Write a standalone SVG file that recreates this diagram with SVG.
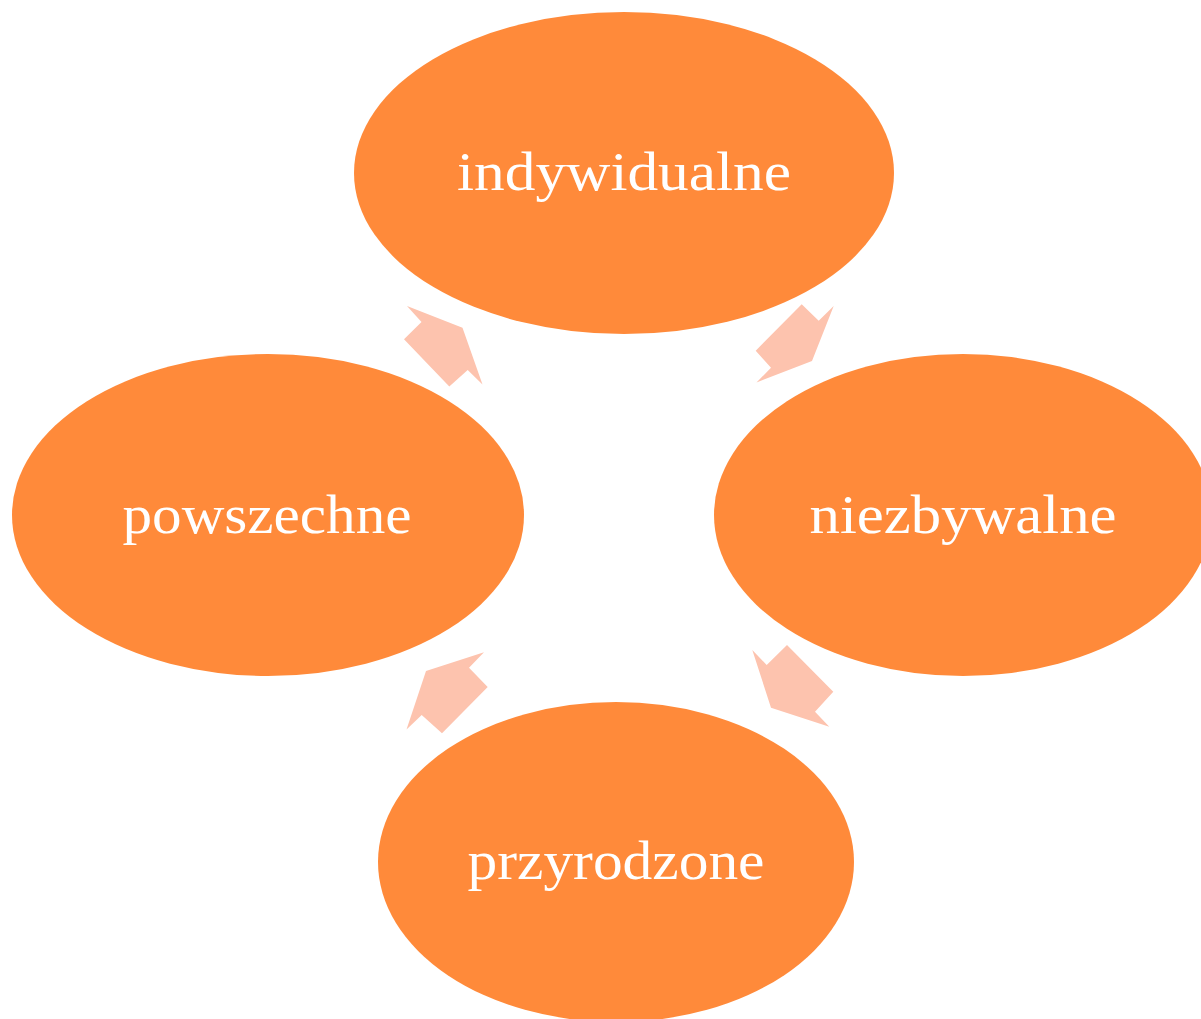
<svg xmlns="http://www.w3.org/2000/svg" width="1201" height="1019" viewBox="0 0 1201 1019">
<style>
.node{fill:#ff8a3a;}
.lbl{font-family:"Liberation Serif","Times New Roman",serif;font-size:54px;fill:#ffffff;text-anchor:middle;}
.arr{fill:#fdc3ae;}
</style>
<rect width="1201" height="1019" fill="#ffffff"/>
<g id="connectors">
<polygon class="arr" points="407,306 421.5,322 404,339.3 449.3,386.5 467.7,370 482.5,384.5 462.5,327.7"/>
<polygon class="arr" points="801.7,304.3 818.7,320.7 833.7,306 812,361 756.5,382.5 771,367.7 755.7,350.7"/>
<polygon class="arr" points="752.3,650 766.7,665 787,645 833.3,691.7 815,711.7 829.3,726.7 771,707.7"/>
<polygon class="arr" points="484,652.3 469,667.7 487.7,687 442,733.3 421.7,715 406.5,729.5 426,671"/>
</g>
<g id="node-indywidualne">
<ellipse class="node" cx="624" cy="173" rx="270" ry="161"/>
<text class="lbl" x="624" y="190" textLength="334" lengthAdjust="spacingAndGlyphs">indywidualne</text>
</g>
<g id="node-niezbywalne">
<ellipse class="node" cx="963" cy="515" rx="249" ry="161"/>
<text class="lbl" x="963" y="533" textLength="307" lengthAdjust="spacingAndGlyphs">niezbywalne</text>
</g>
<g id="node-przyrodzone">
<ellipse class="node" cx="616" cy="862" rx="238" ry="160"/>
<text class="lbl" x="616" y="879" textLength="297" lengthAdjust="spacingAndGlyphs">przyrodzone</text>
</g>
<g id="node-powszechne">
<ellipse class="node" cx="268" cy="515" rx="256" ry="161"/>
<text class="lbl" x="267" y="533" textLength="289" lengthAdjust="spacingAndGlyphs">powszechne</text>
</g>
</svg>
